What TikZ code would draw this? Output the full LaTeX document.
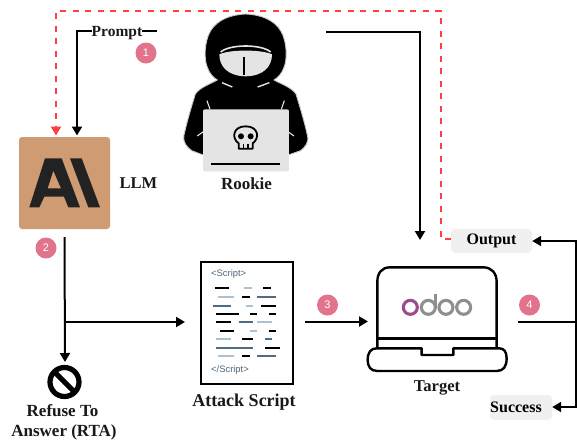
\documentclass[tikz,border=0pt]{standalone}
\usepackage{fontspec}
\setmainfont{Liberation Serif}
\setsansfont{Liberation Sans}
\usetikzlibrary{arrows.meta}
\definecolor{badge}{HTML}{E2738C}
\definecolor{llmbrown}{HTML}{CF9B73}
\definecolor{logoink}{HTML}{222222}
\definecolor{redline}{HTML}{FF4040}
\definecolor{tagfill}{HTML}{F0F0F0}
\definecolor{barblue}{HTML}{4F6B85}
\definecolor{barlight}{HTML}{A9C4D0}
\definecolor{scripttext}{HTML}{4F6680}
\definecolor{odoopurple}{HTML}{9B4C8C}
\definecolor{odoogrey}{HTML}{8F8F8F}
\definecolor{hackgrey}{HTML}{E4E4E4}
\tikzset{
  x=1pt,y=-1pt,
  lbl/.style={font=\bfseries\fontsize{#1}{#1}\selectfont,inner sep=0pt,text=black!90},
  conn/.style={line width=2pt,-{Triangle[length=9pt,width=10pt]}},
  plainline/.style={line width=2pt},
  redconn/.style={line width=2pt,draw=redline,dash pattern=on 6pt off 6.5pt,-{Triangle[length=9pt,width=10pt,fill=redline]}},
  num/.style={circle,fill=badge,text=white,minimum size=21pt,inner sep=0pt,font=\sffamily\fontsize{11}{11}\selectfont},
  tag/.style={fill=tagfill,rounded corners=4pt,inner sep=0pt,font=\bfseries\fontsize{16}{16}\selectfont},
  zoomed/.style args={#1/#2}{shift={(#1,#2)},x=.3333pt,y=-.3333pt},
}
\begin{document}
\begin{tikzpicture}
\useasboundingbox (0,0) rectangle (578,440);
\fill[white] (0,0) rectangle (578,440);

% LLM box
\node[fill=llmbrown,rounded corners=3pt,minimum width=91pt,minimum height=92pt,inner sep=0pt] (llm) at (64.5,183) {};
\begin{scope}[zoomed=0/0]
  \fill[logoink,even odd rule] (135,475) -- (185,475) -- (240,622) -- (205,622) -- (192,590) -- (133,590) -- (118,622) -- (88,622) -- cycle
     (160,512) -- (143,565) -- (183,565) -- cycle;
  \fill[logoink] (210,475) -- (245,475) -- (300,622) -- (265,622) -- cycle;
\end{scope}

% Rookie hacker
\begin{scope}[zoomed=180/10]
  \path[fill=black,draw=black!22,line width=.9pt,line join=round]
    (197,12) .. controls (150,14) and (112,30) .. (92,62)
    .. controls (72,95) and (72,150) .. (82,172)
    .. controls (88,190) and (100,203) .. (112,210)
    .. controls (90,222) and (60,232) .. (46,252)
    .. controls (36,285) and (22,330) .. (12,375)
    .. controls (8,398) and (20,410) .. (35,422)
    -- (72,436) -- (322,436) -- (362,422)
    .. controls (376,410) and (388,398) .. (382,375)
    .. controls (372,330) and (358,285) .. (348,252)
    .. controls (334,232) and (304,222) .. (282,210)
    .. controls (294,203) and (306,190) .. (312,172)
    .. controls (322,150) and (322,95) .. (302,62)
    .. controls (282,30) and (244,14) .. cycle;
  % face
  \fill[hackgrey] (118,133) .. controls (150,118) and (244,118) .. (276,133)
    .. controls (276,170) and (250,198) .. (197,199)
    .. controls (144,198) and (118,170) .. cycle;
  \draw[hackgrey,line width=1.6pt] (122,126) .. controls (150,102) and (244,102) .. (272,126);
  \draw[black,line width=1.6pt] (192,140) -- (192,194);
  % hood highlights
  \draw[hackgrey,line width=1.4pt] (126,218) -- (157,231);
  \draw[hackgrey,line width=1.4pt] (268,218) -- (233,231);
  \draw[hackgrey,line width=1.1pt] (81,272) -- (90,298);
  \draw[hackgrey,line width=1.1pt] (313,272) -- (304,298);
  \draw[hackgrey,line width=1.1pt] (52,378) -- (70,365);
  \draw[hackgrey,line width=1.1pt] (342,378) -- (324,365);
  % laptop
  \fill[hackgrey,rounded corners=2pt] (69,298) rectangle (327,484);
  \draw[black,line width=1.8pt] (94,461) -- (301,461);
  % skull
  \draw[black,line width=1.8pt,fill=hackgrey,line join=round]
    (176,400) .. controls (154,385) and (158,349) .. (197,349)
    .. controls (236,349) and (240,385) .. (218,400)
    -- (218,416) -- (176,416) -- cycle;
  \fill[black] (183,379) circle (9);
  \fill[black] (212,379) circle (9);
  \draw[black,line width=1.1pt] (190,402) -- (190,416) (204,402) -- (204,416);
\end{scope}

% labels
\node[lbl=15.5] (prompt) at (117,33) {Prompt};
\node[lbl=16.5] (llmlabel) at (138.5,183.5) {LLM};
\node[lbl=17] (rookielabel) at (246.5,184) {Rookie};
\node[lbl=17] (refuse) at (62.5,410.5) {Refuse To};
\node[lbl=17] (answer) at (64,432) {Answer (RTA)};
\node[lbl=18] (attacklabel) at (244,402.5) {Attack Script};
\node[lbl=16.6] (targetlabel) at (437,388) {Target};

% tags
\node[tag,minimum width=81pt,minimum height=24pt] (output) at (491.5,241) {Output};
\node[tag,minimum width=62pt,minimum height=25pt,text width=62pt,align=center] (success) at (521,407.5) {\hspace*{-10pt}Success};

% script document
\node[draw=black,line width=2pt,minimum width=92pt,minimum height=122pt,inner sep=0pt] (script) at (246.5,322.5) {};
\node[font=\sffamily\fontsize{9.4}{10}\selectfont,text=scripttext,inner sep=0pt,anchor=west] (stag) at (211,274) {<Script>};
\node[font=\sffamily\fontsize{9.4}{10}\selectfont,text=scripttext,inner sep=0pt,anchor=west] (etag) at (211,370) {</Script>};
\begin{scope}[zoomed=0/220,line width=1.8pt]
  \foreach \c/\a/\b/\y in {
    black/645/687/205,barlight/733/755/205,black/790/812/205,
    barlight/655/703/231,black/727/749/231,barblue/772/828/231,
    barblue/640/692/257,barlight/738/760/257,black/784/828/257,
    black/648/716/282,black/750/772/282,black/806/828/282,
    black/648/692/307,barblue/716/760/307,barlight/772/817/307,
    black/660/703/332,barlight/750/772/332,black/806/828/332,
    barlight/648/692/358,black/727/760/358,barblue/794/816/358,
    barblue/648/760/383,black/795/840/383,
    barlight/655/703/408,black/727/749/408,barblue/772/828/408}
    \draw[\c] (\a,\y) -- (\b,\y);
\end{scope}

% target laptop
\begin{scope}[zoomed=290/220,line width=2.4pt,line join=round]
  \draw (262,385) -- (262,185) .. controls (262,160) and (275,142) .. (300,142)
     -- (580,142) .. controls (605,142) and (620,160) .. (620,185) -- (620,385);
  \draw (262,355) -- (620,355);
  \draw (260,385) -- (395,385) -- (395,405) -- (490,405) -- (490,385) -- (628,385)
     .. controls (642,385) and (650,395) .. (650,415)
     .. controls (650,440) and (640,453) .. (620,453)
     -- (262,453) .. controls (242,453) and (233,440) .. (233,420)
     .. controls (233,398) and (242,385) .. (260,385) -- cycle;
  \draw[odoopurple,line width=3.1pt] (361,262) circle (21);
  \draw[odoogrey,line width=3.1pt] (415,262) circle (21);
  \draw[odoogrey,line width=3.1pt] (468,262) circle (21);
  \draw[odoogrey,line width=3.1pt] (521,262) circle (21);
  \draw[odoogrey,line width=3.1pt] (436,262) -- (436,222);
\end{scope}

% refuse icon
\node[draw=black,circle,line width=5.2pt,minimum size=29pt,inner sep=0pt] (rta) at (64.5,382) {};
\draw[black,line width=5pt] (rta.center) ++(-10.5,-10.5) -- ++(21,21);

% named free ends
\coordinate (promptfree) at (157,31);
\coordinate (pbend) at (77,31);
\coordinate (rookiefree) at (326,31.5);
\coordinate (rookiebend) at (420,31.5);
\coordinate (targettop) at (420,240);
\coordinate (llmfoot) at (64.5,237);
\coordinate (branch) at (65,322);
\coordinate (rtatop) at (65,362);
\coordinate (scriptin) at (185,322);
\coordinate (scriptout) at (305,321.5);
\coordinate (targetin) at (368,321.5);
\coordinate (targetout) at (518,322);
\coordinate (trunk) at (576,322);
\coordinate (trunktop) at (576,241);
\coordinate (trunkbot) at (576,407);
\coordinate (redbr) at (440.5,239);
\coordinate (redtr) at (440.5,11);
\coordinate (redtl) at (56,11);
\coordinate (redend) at (56,135.5);
\coordinate (pend) at (77,135.5);

% connectors
\draw[redconn] (output.west |- redbr) -- (redbr) -- (redtr) -- (redtl) -- (redend);
\draw[plainline] (promptfree) -- (prompt.east |- promptfree);
\draw[conn] (prompt.west |- pbend) -- (pbend) -- (pend);
\draw[conn] (rookiefree) -- (rookiebend) -- (targettop);
\draw[conn] (llmfoot) -- (rtatop);
\draw[conn] (branch) -- (scriptin);
\draw[conn] (scriptout) -- (targetin);
\draw[plainline] (targetout) -- (trunk);
\draw[conn] (trunk) -- (trunktop) -- (output.east |- trunktop);
\draw[conn] (trunk) -- (trunkbot) -- (success.east |- trunkbot);

% badges
\node[num] (n1) at (146,53) {1};
\node[num] (n2) at (46,248) {2};
\node[num] (n3) at (327.5,305) {3};
\node[num] (n4) at (529.5,305) {4};
\end{tikzpicture}
\end{document}
